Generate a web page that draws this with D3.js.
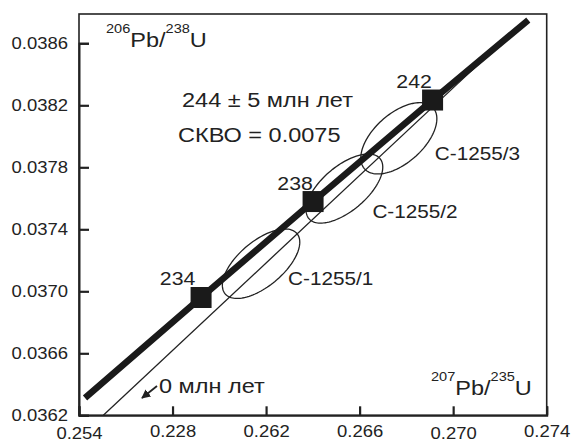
<!DOCTYPE html>
<html>
<head>
<meta charset="utf-8">
<script src="https://d3js.org/d3.v7.min.js"></script>
<style>
  body { margin: 0; background: #fff; }
  svg text { font-family: "Liberation Sans", Arial, sans-serif; fill: #222; }
</style>
</head>
<body>
<div id="chart"></div>
<script>
"use strict";

// tick values and the labels printed under them (as in the original figure)
var xTicks = [0.254, 0.258, 0.262, 0.266, 0.270, 0.274];
var xTickLabels = ["0.254", "0.228", "0.262", "0.266", "0.270", "0.274"];
var yTicks = [0.0362, 0.0366, 0.0370, 0.0374, 0.0378, 0.0382, 0.0386];
var yTickLabels = ["0.0362", "0.0366", "0.0370", "0.0374", "0.0378", "0.0382", "0.0386"];

// concordia (thick line)
var concordiaX = [0.25426, 0.25922, 0.26401, 0.26912, 0.27321];
var concordiaY = [0.036312, 0.03696, 0.037579, 0.038234, 0.03875];

// age marks on concordia, Ma
var ageLabels = ["234", "238", "242"];
var ageX = [0.25922, 0.26401, 0.26912];
var ageY = [0.03696, 0.037579, 0.038234];

// discordia through 0 Ma (thin line)
var discordiaX = [0.25504, 0.27193];
var discordiaY = [0.0362, 0.038585];

// error ellipses of the samples
var sampleNames = ["С-1255/1", "С-1255/2", "С-1255/3"];
var sampleX = [0.261786, 0.26535, 0.267677];
var sampleY = [0.037178, 0.037663, 0.037987];
var sampleSX = [0.001655, 0.00164, 0.001626];
var sampleSY = [0.000224, 0.000223, 0.00023];
var sampleRho = [0.62, 0.62, 0.55];

var STRETCH = 1.12;   // the figure's lettering is wider than Arial

main();

// widen text horizontally around its own x
function stretch(sel) {
  sel.each(function() {
    var t = d3.select(this);
    var x0 = +t.attr("x") || 0;
    t.attr("transform", "translate(" + (x0 * (1 - STRETCH)) + ",0) scale(" + STRETCH + ",1)");
  });
}

function main() {
  var width = 571;
  var height = 444;
  var mLeft = 79, mRight = 546.7, mTop = 14, mBottom = 415.3;

  var svg = d3.select("#chart").append("svg")
      .attr("width", width)
      .attr("height", height);

  var x = d3.scaleLinear().domain([0.254, 0.274]).range([mLeft, mRight]);
  var y = d3.scaleLinear().domain([0.0362, 0.0386]).range([mBottom, mBottom - 6 * 62]);

  // frame
  svg.append("rect")
      .attr("x", mLeft).attr("y", mTop)
      .attr("width", mRight - mLeft).attr("height", mBottom - mTop)
      .attr("fill", "none").attr("stroke", "#222").attr("stroke-width", 1.6);

  var yAxis = svg.append("g")
      .attr("transform", "translate(" + mLeft + ",0)")
      .call(d3.axisLeft(y).tickValues(yTicks).tickSize(-10).tickPadding(11)
          .tickFormat(function(d, i) { return yTickLabels[i]; }));

  var xAxis = svg.append("g")
      .attr("transform", "translate(0," + mBottom + ")")
      .call(d3.axisBottom(x).tickValues(xTicks).tickSize(-9).tickPadding(10)
          .tickFormat(function(d, i) { return xTickLabels[i]; }));

  [xAxis, yAxis].forEach(function(g) {
    g.select(".domain").attr("stroke", "#222").attr("stroke-width", 2);
    g.selectAll(".tick line").attr("stroke", "#222").attr("stroke-width", 2.2);
    g.selectAll(".tick text")
        .attr("font-family", "Liberation Sans, Arial, sans-serif")
        .attr("font-size", 16.5)
        .attr("fill", "#222")
        .call(stretch);
  });
  // labels under the first and fifth tick sit a little lower in the original
  xAxis.selectAll(".tick text")
      .attr("y", function(d, i) { return (i === 0 || i === 4) ? 12 : 9.5; });

  var plot = svg.append("g");

  var line = d3.line()
      .x(function(d) { return x(d[0]); })
      .y(function(d) { return y(d[1]); });

  // discordia
  plot.append("path")
      .datum(d3.zip(discordiaX, discordiaY))
      .attr("d", line)
      .attr("fill", "none").attr("stroke", "#222").attr("stroke-width", 1.3);

  // ellipses: sx, sy and correlation in data units
  function ellipsePoints(i) {
    var pts = [];
    var r = sampleRho[i];
    for (var k = 0; k <= 120; k++) {
      var t = k / 120 * 2 * Math.PI;
      pts.push([
        sampleX[i] + sampleSX[i] * Math.cos(t),
        sampleY[i] + sampleSY[i] * (r * Math.cos(t) + Math.sqrt(1 - r * r) * Math.sin(t))
      ]);
    }
    return pts;
  }

  plot.selectAll(".ellipse")
      .data(sampleNames)
      .enter().append("path")
      .attr("class", "ellipse")
      .attr("d", function(d, i) { return line(ellipsePoints(i)) + "Z"; })
      .attr("fill", "none").attr("stroke", "#222").attr("stroke-width", 1.3);

  // concordia
  plot.append("path")
      .datum(d3.zip(concordiaX, concordiaY))
      .attr("d", d3.line()
          .x(function(d) { return x(d[0]); })
          .y(function(d) { return y(d[1]); })
          .curve(d3.curveMonotoneX))
      .attr("fill", "none").attr("stroke", "#1a1a1a").attr("stroke-width", 6.5);

  var sq = 21;
  plot.selectAll(".age")
      .data(ageLabels)
      .enter().append("rect")
      .attr("class", "age")
      .attr("x", function(d, i) { return x(ageX[i]) - sq / 2; })
      .attr("y", function(d, i) { return y(ageY[i]) - sq / 2; })
      .attr("width", sq).attr("height", sq)
      .attr("fill", "#1a1a1a");

  var ageDx = [-23.5, -18, -18.5];
  plot.selectAll(".agelabel")
      .data(ageLabels)
      .enter().append("text")
      .attr("class", "agelabel")
      .attr("x", function(d, i) { return x(ageX[i]) + ageDx[i]; })
      .attr("y", function(d, i) { return y(ageY[i]) - 12; })
      .attr("text-anchor", "middle")
      .attr("font-size", 19)
      .text(function(d) { return d; })
      .call(stretch);

  // sample labels, offset from ellipse centre
  var labelDx = [27, 28, 36];
  var labelDy = [21, 29.5, 22];
  plot.selectAll(".samplelabel")
      .data(sampleNames)
      .enter().append("text")
      .attr("class", "samplelabel")
      .attr("x", function(d, i) { return x(sampleX[i]) + labelDx[i]; })
      .attr("y", function(d, i) { return y(sampleY[i]) + labelDy[i]; })
      .attr("font-size", 18.5)
      .text(function(d) { return d; })
      .call(stretch);

  // age and MSWD
  svg.append("text").attr("x", 182).attr("y", 107)
      .attr("font-size", 21)
      .text("244 ± 5 млн лет")
      .call(stretch);
  svg.append("text").attr("x", 178).attr("y", 142)
      .attr("font-size", 21)
      .text("СКВО = 0.0075")
      .call(stretch);

  // axis titles with superscripts
  function isotopeLabel(px, py, a, b, c, d) {
    var t = svg.append("text").attr("x", px).attr("y", py).attr("font-size", 21);
    t.append("tspan").attr("font-size", 13).attr("dy", -14).text(a);
    t.append("tspan").attr("dy", 14).text(b);
    t.append("tspan").attr("font-size", 13).attr("dy", -14).text(c);
    t.append("tspan").attr("dy", 14).text(d);
    t.call(stretch);
  }
  isotopeLabel(106, 47, "206", "Pb/", "238", "U");
  isotopeLabel(431, 395, "207", "Pb/", "235", "U");

  // 0 Ma arrow
  svg.append("defs").append("marker")
      .attr("id", "arrow")
      .attr("viewBox", "0 0 10 10")
      .attr("refX", 9).attr("refY", 5)
      .attr("markerWidth", 5).attr("markerHeight", 5)
      .attr("orient", "auto")
      .append("path").attr("d", "M0,0L10,5L0,10Z").attr("fill", "#222");

  svg.append("line")
      .attr("x1", 157).attr("y1", 386).attr("x2", 142).attr("y2", 398)
      .attr("stroke", "#222").attr("stroke-width", 1.8)
      .attr("marker-end", "url(#arrow)");

  svg.append("text").attr("x", 159).attr("y", 393)
      .attr("font-size", 21)
      .text("0 млн лет")
      .call(stretch);
}
</script>
</body>
</html>
